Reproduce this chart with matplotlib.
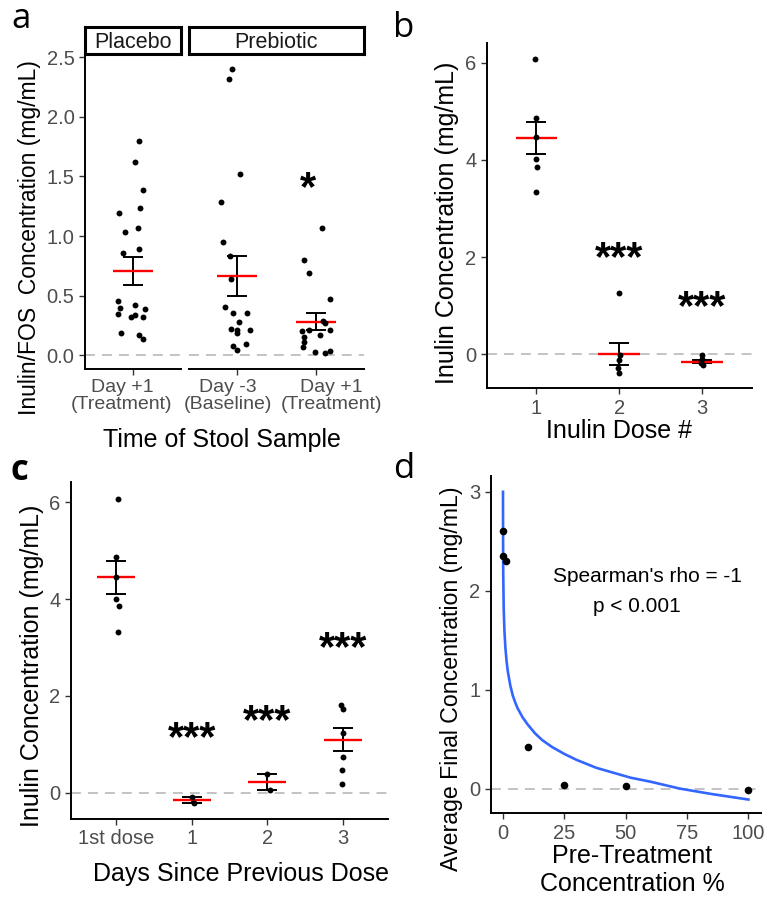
import numpy as np
import matplotlib.pyplot as plt
from matplotlib.transforms import ScaledTranslation

W, H = 769, 899
plt.rcParams['font.family'] = ['Liberation Sans', 'DejaVu Sans']

# ---- panel a: inulin/FOS in stool ----
a_labels = ['Day +1\n(Treatment)', 'Day -3\n(Baseline)', 'Day +1\n(Treatment)']
a_placebo = [1.795, 1.62, 1.387, 1.197, 1.233, 1.037, 1.071, 0.861, 0.895, 0.453,
             0.397, 0.422, 0.391, 0.347, 0.324, 0.341, 0.324, 0.190, 0.171, 0.140]
a_placebo_jit = [0.071, 0.029, 0.121, -0.179, 0.092, -0.1, 0.063, -0.125, 0.071, -0.188,
                 -0.158, 0.021, 0.154, -0.192, -0.021, 0.021, 0.125, -0.146, 0.071, 0.125]
a_base = [2.402, 2.315, 1.521, 1.284, 0.948, 0.833, 0.638, 0.408, 0.352, 0.358,
          0.282, 0.218, 0.213, 0.213, 0.185, 0.078, 0.095, 0.045]
a_base_jit = [-0.063, -0.092, 0.042, -0.197, -0.168, -0.084, -0.071, -0.147, -0.042, 0.126,
              0.029, -0.071, 0.008, 0.168, 0.008, -0.042, 0.117, 0.008]
a_treat = [1.068, 0.803, 0.688, 0.473, 0.291, 0.274, 0.204, 0.213, 0.213, 0.171,
           0.157, 0.115, 0.067, 0.028, 0.022, 0.034]
a_treat_jit = [0.071, -0.159, -0.096, 0.168, 0.084, 0.113, -0.180, -0.096, 0.176, 0.050,
               -0.159, -0.159, -0.168, -0.021, 0.113, 0.168]
a_means = [0.706, 0.666, 0.282]
a_sems = [0.116, 0.167, 0.070]
a_star_y = 1.454

# ---- panel b: by dose number ----
b_doses = ['1', '2', '3']
b_vals = [[6.08, 4.87, 4.46, 4.01, 3.86, 3.33],
          [1.255, -0.014, -0.117, -0.29, -0.39],
          [-0.014, -0.10, -0.186, -0.22]]
b_jit = [[-0.015, 0.0, 0.0, 0.0, 0.01, 0.0],
         [0.0, 0.01, 0.0, -0.01, 0.0],
         [0.0, 0.0, -0.01, 0.01]]
b_means = [4.445, 0.005, -0.152]
b_sems = [0.335, 0.22, 0.03]
b_star_y = [2.10, 1.10]

# ---- panel c: by days since previous dose ----
c_days = ['1st dose', '1', '2', '3']
c_vals = [[6.07, 4.86, 4.45, 4.0, 3.85, 3.32],
          [-0.096, -0.21],
          [0.392, 0.062],
          [1.82, 1.73, 1.245, 0.75, 0.475, 0.186]]
c_jit = [[0.02, 0.0, -0.01, 0.0, 0.03, 0.02],
         [0.0, 0.03],
         [0.0, 0.03],
         [-0.02, 0.01, 0.01, 0.01, -0.01, -0.01]]
c_means = [4.445, -0.153, 0.227, 1.094]
c_sems = [0.335, 0.058, 0.165, 0.24]
c_star_y = [1.27, 1.61, 3.12]

# ---- panel d: dilution series ----
d_pre = [0.1, 0.2, 1.2, 10, 25, 50, 100]
d_final = [2.6, 2.35, 2.30, 0.42, 0.035, 0.03, -0.01]
d_fit_x = [0.01, 0.03, 0.1, 0.3, 0.6, 1.0, 1.5, 2.0, 3.0, 4.0, 5.0, 6.0, 8.0, 10, 13,
           16, 20, 25, 30, 38, 45, 52, 60, 72, 85, 100]
d_fit_y = [3.0, 2.62, 2.18, 1.82, 1.59, 1.42, 1.28, 1.18, 1.04, 0.94, 0.87, 0.81, 0.72,
           0.65, 0.56, 0.49, 0.42, 0.35, 0.29, 0.21, 0.16, 0.11, 0.07, 0.0, -0.055, -0.111]

fig = plt.figure(figsize=(W / 100, H / 100), dpi=100)


def box(x0, y0, x1, y1):
    return fig.add_axes([x0 / W, 1 - y1 / H, (x1 - x0) / W, (y1 - y0) / H])


def classic(ax, left=True):
    for s in ['top', 'right']:
        ax.spines[s].set_visible(False)
    ax.spines['left'].set_visible(left)
    for s in ['left', 'bottom']:
        ax.spines[s].set_linewidth(1.4)
    ax.tick_params(color='#333333', labelcolor='#4D4D4D', labelsize=14.5, width=1.0, length=4)
    if not left:
        ax.tick_params(left=False, labelleft=False)


def zero_line(ax):
    ax.axhline(0, color='#BEBEBE', lw=1.3, ls=(0, (5.5, 3.9)), zorder=0)


def summary(ax, x, m, se):
    ax.errorbar(x, m, yerr=se, fmt='none', ecolor='black', elinewidth=1.4,
                capsize=7.5, capthick=1.4, zorder=2)
    ax.hlines(m, x - 0.25, x + 0.25, color='red', lw=1.7, zorder=3)


def dots(ax, x, vals, jit, s=18):
    ax.scatter(np.array(jit) + x, vals, s=s, color='black', linewidths=0, zorder=4)


def stars(ax, x, y, txt, fs=30, dx=0):
    ax.annotate(txt, (x, y), xytext=(dx, -0.44 * fs), textcoords='offset points',
                ha='center', va='baseline', fontsize=fs, fontweight='bold', color='black')


# panel a (two facets)
a1 = box(85, 54.3, 181, 369)
a2 = box(189, 54.3, 364, 369)
for ax in (a1, a2):
    ax.set_ylim(-0.115, 2.525)
    zero_line(ax)
classic(a1)
classic(a2, left=False)
a1.set_xlim(0.4, 1.6)
a2.set_xlim(0.4, 2.6)
dots(a1, 1, a_placebo, a_placebo_jit)
summary(a1, 1, a_means[0], a_sems[0])
dots(a2, 1, a_base, a_base_jit)
summary(a2, 1, a_means[1], a_sems[1])
dots(a2, 2, a_treat, a_treat_jit)
summary(a2, 2, a_means[2], a_sems[2])
stars(a2, 2, a_star_y, '*', dx=-6)
a1.set_yticks([0, 0.5, 1.0, 1.5, 2.0, 2.5])
a1.set_yticklabels(['0.0', '0.5', '1.0', '1.5', '2.0', '2.5'])
a1.set_xticks([1])
a1.set_xticklabels(a_labels[:1], linespacing=1.0, fontsize=14)
a2.set_xticks([1, 2])
a2.set_xticklabels(a_labels[1:], linespacing=1.0, fontsize=14)
for lbl, dx in zip(a1.get_xticklabels() + a2.get_xticklabels(), [-11, -9, 15]):
    lbl.set_transform(lbl.get_transform() + ScaledTranslation(dx / 100, 0, fig.dpi_scale_trans))
a1.set_ylabel('Inulin/FOS  Concentration (mg/mL)', fontsize=16.5, labelpad=4)
a1.yaxis.label.set_y(0.4175)
fig.text(222 / W, 1 - 447 / H, 'Time of Stool Sample', ha='center', va='baseline', fontsize=18)

for (x0, x1), name in zip([(85, 181), (189, 364)], ['Placebo', 'Prebiotic']):
    st = box(x0, 27, x1, 54.3)
    st.set_xticks([])
    st.set_yticks([])
    for sp in st.spines.values():
        sp.set_linewidth(2.2)
    st.text(0.5, 0.45, name, ha='center', va='center', fontsize=15.5, color='#1A1A1A',
            transform=st.transAxes)

# panel b
b = box(486.7, 42.7, 751.7, 388.3)
classic(b)
zero_line(b)
for i, (v, j) in enumerate(zip(b_vals, b_jit)):
    summary(b, i + 1, b_means[i], b_sems[i])
    dots(b, i + 1, v, j)
for i, y in enumerate(b_star_y):
    stars(b, i + 2, y, '***')
b.set_xlim(0.4, 3.6)
b.set_ylim(-0.70, 6.41)
b.set_xticks([1, 2, 3])
b.set_xticklabels(b_doses)
b.set_yticks([0, 2, 4, 6])
b.set_xlabel('Inulin Dose #', fontsize=18, labelpad=1)
b.set_ylabel('Inulin Concentration (mg/mL)', fontsize=18, labelpad=4)
b.yaxis.label.set_y(0.48)

# panel c
c = box(71, 482.3, 388, 819)
classic(c)
zero_line(c)
for i, (v, j) in enumerate(zip(c_vals, c_jit)):
    summary(c, i + 1, c_means[i], c_sems[i])
    dots(c, i + 1, v, j)
for i, y in enumerate(c_star_y):
    stars(c, i + 2, y, '***')
c.set_xlim(0.4, 4.6)
c.set_ylim(-0.54, 6.41)
c.set_xticks([1, 2, 3, 4])
c.set_xticklabels(c_days)
c.set_yticks([0, 2, 4, 6])
c.set_xlabel('Days Since Previous Dose', fontsize=18, labelpad=10)
c.xaxis.label.set_x(0.536)
c.set_ylabel('Inulin Concentration (mg/mL)', fontsize=18, labelpad=4)
c.yaxis.label.set_y(0.455)

# panel d
d = box(490.7, 476, 760.7, 813.3)
classic(d)
zero_line(d)
d.plot(d_fit_x, d_fit_y, color='#3366FF', lw=1.9, zorder=2)
d.scatter(d_pre, d_final, s=30, color='black', linewidths=0, zorder=4)
d.text(58.7, 2.14, "Spearman's rho = -1", ha='center', va='center', fontsize=15)
d.text(54.5, 1.84, 'p < 0.001', ha='center', va='center', fontsize=15)
d.set_xlim(-5, 105)
d.set_ylim(-0.25, 3.16)
d.set_xticks([0, 25, 50, 75, 100])
d.set_yticks([0, 1, 2, 3])
d.set_xlabel('Pre-Treatment\nConcentration %', fontsize=18, labelpad=1)
d.xaxis.label.set_x(0.523)
d.set_ylabel('Average Final Concentration (mg/mL)', fontsize=16.7, labelpad=4)
d.yaxis.label.set_y(0.40)

# panel letters
for x, y, t, wt in [(11, 28, 'a', 'normal'), (393, 37, 'b', 'normal'),
                    (10, 480, 'c', 'bold'), (393, 478, 'd', 'normal')]:
    fig.text(x / W, 1 - y / H, t, fontsize=25, fontweight=wt, family='Open Sans',
             ha='left', va='baseline')

fig.savefig('out.png', dpi=100)
